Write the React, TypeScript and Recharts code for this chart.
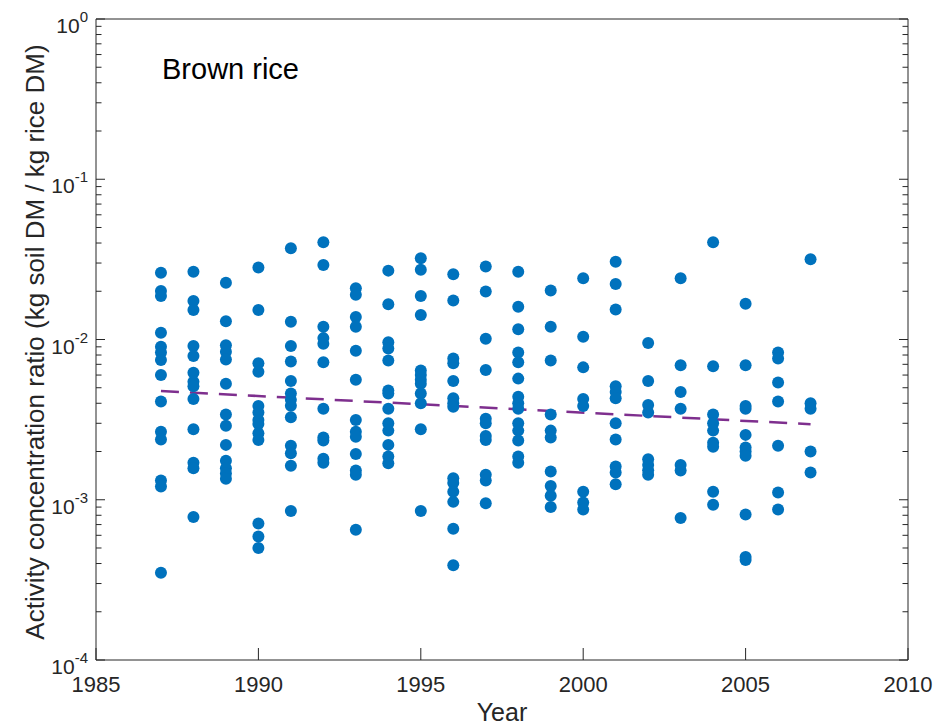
import { ScatterChart, Scatter, XAxis, YAxis, ReferenceLine } from "recharts";

// Sampling years and the measured ratios for each year
const years = [1987, 1988, 1989, 1990, 1991, 1992, 1993, 1994, 1995, 1996, 1997, 1998, 1999, 2000, 2001, 2002, 2003, 2004, 2005, 2006, 2007];

const ratios: number[][] = [
  [0.0261, 0.0201, 0.0187, 0.011, 0.009, 0.0083, 0.00745, 0.006, 0.0041, 0.00266, 0.00238, 0.00132, 0.00121, 0.00035],
  [0.0265, 0.0174, 0.0153, 0.0091, 0.0079, 0.0062, 0.00545, 0.0051, 0.00425, 0.00275, 0.0017, 0.00157, 0.00078],
  [0.0226, 0.013, 0.0092, 0.0084, 0.0075, 0.0053, 0.0034, 0.0029, 0.0022, 0.00175, 0.00157, 0.00146, 0.00135],
  [0.0281, 0.0153, 0.0071, 0.0063, 0.00385, 0.0035, 0.00315, 0.00297, 0.0026, 0.00236, 0.00071, 0.00059, 0.0005],
  [0.0371, 0.0129, 0.0091, 0.0073, 0.0055, 0.0046, 0.0042, 0.00386, 0.00327, 0.00217, 0.00195, 0.00163, 0.00085],
  [0.0404, 0.0292, 0.012, 0.0102, 0.0094, 0.0072, 0.0037, 0.00245, 0.00234, 0.0018, 0.0017],
  [0.0209, 0.019, 0.0138, 0.012, 0.0085, 0.0056, 0.00315, 0.00266, 0.00247, 0.00193, 0.00152, 0.00143, 0.00065],
  [0.0269, 0.0166, 0.0096, 0.0088, 0.0074, 0.0048, 0.0046, 0.0037, 0.003, 0.0027, 0.0022, 0.00186, 0.00169],
  [0.0321, 0.0272, 0.0187, 0.0142, 0.0064, 0.006, 0.0056, 0.0053, 0.0046, 0.004, 0.00275, 0.00085],
  [0.0255, 0.0175, 0.0076, 0.0071, 0.0055, 0.0043, 0.004, 0.0038, 0.00136, 0.00127, 0.00112, 0.00097, 0.00066, 0.00039],
  [0.0285, 0.0199, 0.0101, 0.00645, 0.0032, 0.003, 0.0025, 0.00236, 0.00143, 0.00132, 0.00095],
  [0.0265, 0.016, 0.0116, 0.0083, 0.0072, 0.0057, 0.0044, 0.004, 0.0037, 0.003, 0.0027, 0.00234, 0.00186, 0.0017],
  [0.0202, 0.012, 0.0074, 0.0034, 0.0027, 0.00245, 0.0015, 0.00122, 0.00106, 0.0009],
  [0.0241, 0.0104, 0.0067, 0.00425, 0.00385, 0.00112, 0.00096, 0.00087],
  [0.0306, 0.0222, 0.0154, 0.0051, 0.0047, 0.0043, 0.003, 0.00238, 0.00161, 0.00148, 0.00125],
  [0.0095, 0.0055, 0.0039, 0.0035, 0.00179, 0.00165, 0.00153, 0.00143],
  [0.0241, 0.0069, 0.0047, 0.0037, 0.00165, 0.00152, 0.00077],
  [0.0404, 0.0068, 0.0034, 0.003, 0.0027, 0.00227, 0.00214, 0.00112, 0.00093],
  [0.0167, 0.0069, 0.00385, 0.0037, 0.00254, 0.00212, 0.002, 0.00188, 0.00081, 0.00044, 0.00042],
  [0.0083, 0.0076, 0.0054, 0.0041, 0.00217, 0.00111, 0.00087],
  [0.0317, 0.004, 0.0037, 0.002, 0.00148],
];

// Fitted trend (log-linear), end points
const trendYears = [1987, 2007];
const trendRatios = [0.00477, 0.00296];

const xTicks = [1985, 1990, 1995, 2000, 2005, 2010];
const decades = [-4, -3, -2, -1, 0];
const minorSteps = [2, 3, 4, 5, 6, 7, 8, 9];

const BLUE = "#0072BD";
const PURPLE = "#7E2F8E";
const AXIS = "#262626";
const FONT = "'Liberation Sans', Arial, Helvetica, sans-serif";

const points = years.flatMap((year, i) => ratios[i].map((value) => ({ year, value })));

const yTicks = decades.flatMap((d) =>
  d === 0 ? [1] : [Math.pow(10, d), ...minorSteps.map((m) => m * Math.pow(10, d))]
);

const isMajor = (v: number) => {
  const l = Math.log10(v);
  return Math.abs(l - Math.round(l)) < 1e-6;
};

const Y_MARGIN = 8;

function LeftTick(props: any) {
  const { x, y, payload } = props;
  const v = payload.value;
  const major = isMajor(v);
  const axisX = x + Y_MARGIN;
  return (
    <g>
      <line x1={axisX} x2={axisX + (major ? 9 : 5.5)} y1={y} y2={y} stroke={AXIS} strokeWidth={1} />
      {major && (
        <text x={x} y={y + 14} textAnchor="end" fill={AXIS} fontFamily={FONT} fontSize={21}>
          <tspan>10</tspan>
          <tspan dy={-11} fontSize={15}>{Math.round(Math.log10(v))}</tspan>
        </text>
      )}
    </g>
  );
}

function RightTick(props: any) {
  const { x, y, payload } = props;
  const major = isMajor(payload.value);
  return <line x1={x} x2={x - (major ? 9 : 5.5)} y1={y} y2={y} stroke={AXIS} strokeWidth={1} />;
}

function XTick(props: any) {
  const { x, y, payload } = props;
  return (
    <g>
      <line x1={x} x2={x} y1={y} y2={y - 12} stroke={AXIS} strokeWidth={1} />
      <text x={x} y={y + 32} textAnchor="middle" fill={AXIS} fontFamily={FONT} fontSize={22}>
        {payload.value}
      </text>
    </g>
  );
}

const Dot = (p: any) => <circle cx={p.cx} cy={p.cy} r={6} fill={BLUE} />;

export default function App() {
  return (
    <div style={{ position: "absolute", left: 0, top: 0, width: 935, height: 727, background: "#fff" }}>
      <ScatterChart width={935} height={727} margin={{ top: 19, right: 0, bottom: 0, left: 0 }}>
        <XAxis
          type="number"
          dataKey="year"
          domain={[1985, 2010]}
          ticks={xTicks}
          interval={0}
          height={67}
          tickSize={0}
          tickMargin={0}
          tickLine={false}
          tick={(p: any) => <XTick {...p} />}
          axisLine={{ stroke: AXIS, strokeWidth: 1 }}
          allowDataOverflow
        />
        <YAxis
          yAxisId="left"
          type="number"
          dataKey="value"
          scale="log"
          domain={[1e-4, 1]}
          ticks={yTicks}
          interval={0}
          width={96}
          tickSize={0}
          tickMargin={Y_MARGIN}
          tickLine={false}
          tick={(p: any) => <LeftTick {...p} />}
          axisLine={{ stroke: AXIS, strokeWidth: 1 }}
          allowDataOverflow
        />
        <YAxis
          yAxisId="right"
          orientation="right"
          type="number"
          scale="log"
          domain={[1e-4, 1]}
          ticks={yTicks}
          interval={0}
          width={27}
          tickSize={0}
          tickMargin={0}
          tickLine={false}
          tick={(p: any) => <RightTick {...p} />}
          axisLine={{ stroke: AXIS, strokeWidth: 1 }}
          allowDataOverflow
        />
        <ReferenceLine yAxisId="left" y={1} stroke={AXIS} strokeWidth={1} />
        <Scatter yAxisId="left" data={points} fill={BLUE} shape={Dot} isAnimationActive={false} />
        <ReferenceLine
          yAxisId="left"
          segment={[
            { x: trendYears[0], y: trendRatios[0] },
            { x: trendYears[1], y: trendRatios[1] },
          ]}
          stroke={PURPLE}
          strokeWidth={2.5}
          strokeDasharray="18 11"
        />
        <text x={162} y={79} fontFamily={FONT} fontSize={29} fill="#000">
          Brown rice
        </text>
        <text x={502} y={721} textAnchor="middle" fontFamily={FONT} fontSize={25} fill={AXIS}>
          Year
        </text>
        <text
          x={44}
          y={342}
          transform="rotate(-90 44 342)"
          textAnchor="middle"
          fontFamily={FONT}
          fontSize={26}
          fill={AXIS}
        >
          Activity concentration ratio (kg soil DM / kg rice DM)
        </text>
      </ScatterChart>
    </div>
  );
}
